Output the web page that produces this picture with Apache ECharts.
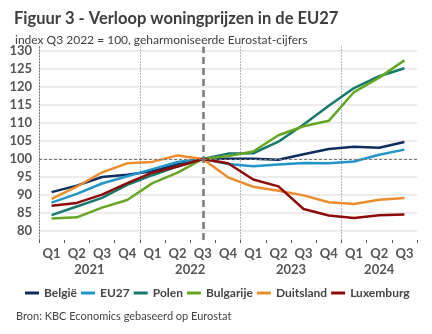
<!DOCTYPE html>
<html><head><meta charset="utf-8">
<script src="https://cdn.jsdelivr.net/npm/echarts@6/dist/echarts.min.js"></script>
<style>html,body{margin:0;padding:0;background:#fff}#c{width:432px;height:334px}</style>
</head><body><div id="c"></div>
<script>
var categories = ['2021Q1','2021Q2','2021Q3','2021Q4','2022Q1','2022Q2','2022Q3','2022Q4','2023Q1','2023Q2','2023Q3','2023Q4','2024Q1','2024Q2','2024Q3'];
var quarterLabels = ['Q1','Q2','Q3','Q4','Q1','Q2','Q3','Q4','Q1','Q2','Q3','Q4','Q1','Q2','Q3'];
var yearSlots = ['','','','','2021','','','','','','','','2022','','','','','','','','2023','','','','','','','2024','','',''];
var belgie    = [90.8, 92.6, 95.0, 95.6, 96.6, 98.5, 100, 100.1, 100.1, 99.8, 101.3, 102.8, 103.4, 103.1, 104.7];
var eu27      = [87.9, 90.3, 93.2, 95.2, 97.2, 99.2, 100, 98.6, 98.0, 98.5, 98.9, 98.8, 99.3, 101.2, 102.6];
var polen     = [84.4, 86.8, 89.2, 92.8, 95.5, 98.0, 100, 101.5, 101.6, 104.8, 109.6, 114.8, 119.7, 123.0, 125.2];
var bulgarije = [83.5, 83.8, 86.5, 88.6, 93.3, 96.2, 100, 100.8, 102.1, 106.6, 109.1, 110.6, 118.6, 122.6, 127.4];
var duitsland = [88.9, 92.3, 96.3, 98.8, 99.2, 101.0, 100, 94.9, 92.3, 91.2, 89.9, 88.0, 87.5, 88.7, 89.2];
var luxemburg = [87.0, 87.8, 90.1, 93.3, 96.2, 97.9, 100, 98.8, 94.3, 92.4, 86.1, 84.3, 83.6, 84.4, 84.6];
var baseQuarter = '2022Q3';
var baseValue = 100;

var FONT = 'Lato';
var DOT = {color:'#6f6f6f', width:1, type:[1,2]};
var chart = echarts.init(document.getElementById('c'), null, {renderer:'canvas'});
function line(name, data, color) {
  return {name:name, type:'line', data:data, symbol:'none', smooth:false,
    lineStyle:{width:2.5, color:color}, itemStyle:{color:color}, animation:false, z:3};
}
var series = [
  line('België', belgie, '#0f2d5f'),
  line('EU27', eu27, '#2396c9'),
  line('Polen', polen, '#17786c'),
  line('Bulgarije', bulgarije, '#66a622'),
  line('Duitsland', duitsland, '#ec8d2e'),
  line('Luxemburg', luxemburg, '#8e0b0b')
];
series[0].markLine = {silent:true, symbol:'none', animation:false, label:{show:false},
  data:[
    {xAxis: baseQuarter, lineStyle:{color:'#7a7a7a', width:2.5, type:[7,4]}},
    {yAxis: baseValue, lineStyle:{color:'#7a7a7a', width:1, type:[3,2]}}
  ]};
chart.setOption({
  animation:false,
  textStyle:{fontFamily:FONT},
  title:[
    {text:'Figuur 3 - Verloop woningprijzen in de EU27', left:9, top:5,
     textStyle:{fontFamily:FONT, fontSize:16.5, fontWeight:'bold', color:'#3d3d3d'}},
    {text:'index Q3 2022 = 100, geharmoniseerde Eurostat-cijfers', left:10, top:29,
     textStyle:{fontFamily:FONT, fontSize:12, fontWeight:'normal', color:'#3d3d3d'}},
    {text:'Bron: KBC Economics gebaseerd op Eurostat', left:11, top:306,
     textStyle:{fontFamily:FONT, fontSize:11, fontWeight:'normal', color:'#444'}}
  ],
  legend:{left:20, top:282, itemWidth:14, itemHeight:3, itemGap:4, icon:'rect',
    textStyle:{fontFamily:FONT, fontSize:12, fontWeight:'bold', color:'#444'},
    data:['België','EU27','Polen','Bulgarije','Duitsland','Luxemburg']},
  grid:{left:39, right:15, top:46.5, bottom:94, containLabel:false},
  xAxis:[
    {type:'category', data:categories, boundaryGap:true,
     axisLine:{show:false},
     axisTick:{show:true, interval:0, length:3, lineStyle:{color:'#555'}},
     axisLabel:{interval:0, margin:7, fontFamily:FONT, fontSize:13, fontWeight:'bold', color:'#555',
       formatter:function(v, i){ return quarterLabels[i]; }},
     splitLine:{show:false}},
    {type:'category', data:yearSlots, boundaryGap:false, position:'bottom', offset:16,
     axisLine:{show:false}, axisTick:{show:false}, splitLine:{show:false},
     axisLabel:{interval:0, margin:7, fontFamily:FONT, fontSize:13, fontWeight:'bold', color:'#555'}},
    {type:'value', min:0, max:15, interval:4, position:'bottom',
     axisLine:{show:false}, axisTick:{show:false}, axisLabel:{show:false},
     splitLine:{show:true, showMinLine:true, showMaxLine:false, lineStyle:DOT}}
  ],
  yAxis:{type:'value', min:77.5, max:131.25, interval:2.5,
    axisLine:{show:true, onZero:false, lineStyle:DOT}, axisTick:{show:false},
    axisLabel:{margin:7, fontFamily:FONT, fontSize:13, fontWeight:'bold', color:'#555',
      showMaxLabel:false,
      formatter:function(v){ return (Math.abs(v % 5) < 1e-9) ? String(v) : ''; }},
    splitLine:{show:true, lineStyle:{color:['rgba(0,0,0,0)','#e6e6e6'], width:1.5}}},
  series:series
});
</script></body></html>
